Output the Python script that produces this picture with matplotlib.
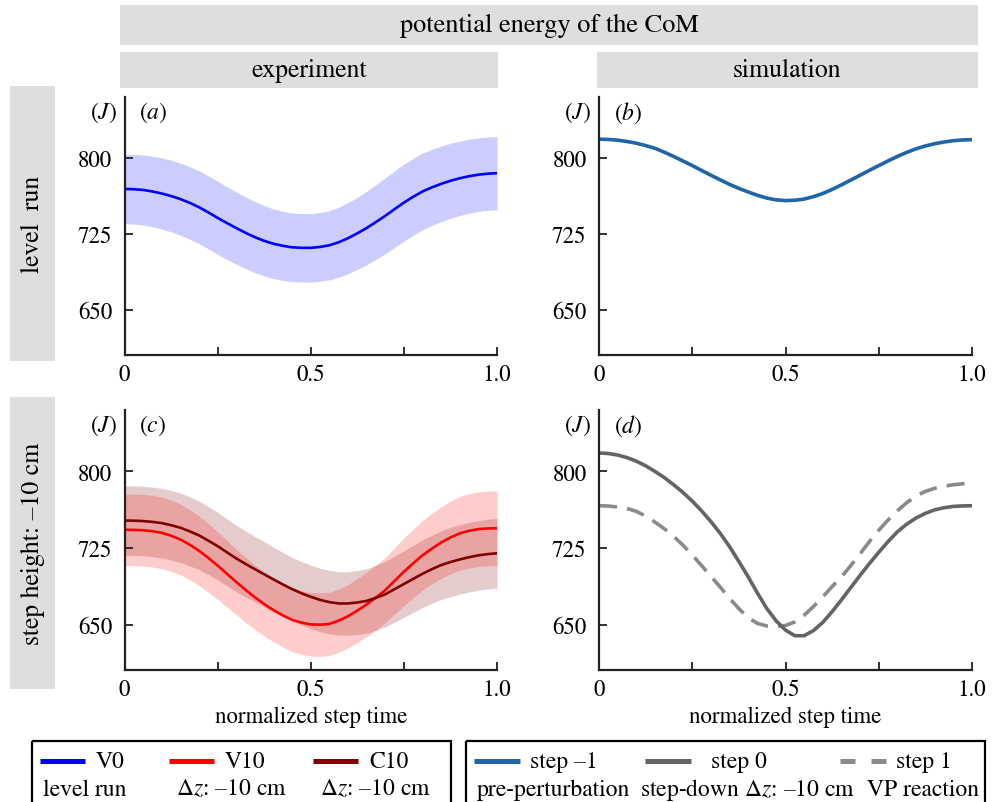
import numpy as np
import matplotlib.pyplot as plt
from matplotlib.patches import Rectangle

plt.rcParams['font.family'] = ['STIXGeneral', 'DejaVu Serif']
plt.rcParams['mathtext.fontset'] = 'stix'

# normalized step time, 0 .. 1 in steps of 0.025
t = np.linspace(0, 1, 41)

# (a) experiment, level run (V0): mean and sd, J
v0_mean = [769.5, 769.2, 768.5, 767, 765, 762.5, 759.5, 755.8, 751.5, 746.4, 741,
           735.9, 731, 726.3, 722, 718.4, 715.5, 713.5, 712, 711.5, 711.5,
           712.4, 714, 717, 721, 725.8, 731, 736.9, 743, 749.6, 756,
           761.8, 767, 771, 774.5, 777.5, 780, 782, 783.5, 784.5, 785]
v0_sd = [34.2, 34.3, 34.5, 34.7, 35, 35.3, 35.5, 35.7, 35.8, 35.9, 36,
         35.8, 35.6, 35.3, 35, 34.6, 34.3, 34, 33.8, 33.7, 33.7,
         33.8, 34, 34.5, 35, 35.6, 36.2, 36.8, 37.3, 37.7, 38,
         37.9, 37.8, 37.5, 37.2, 36.9, 36.6, 36.4, 36.2, 36.1, 36]

# (b) simulation, level run (step -1)
step_m1 = [818.5, 818.2, 817.5, 816.2, 814.5, 812.2, 809.5, 805.7, 801.5, 797, 792.5,
           787.7, 783, 778.4, 774, 770, 766.5, 763.2, 760.5, 758.7, 758,
           758.4, 759.5, 761.9, 765, 769, 773.5, 778.2, 783, 787.8, 792.5,
           797.1, 801.5, 805.5, 809, 811.8, 814, 815.7, 817, 817.7, 818]

# (c) experiment, step down (V10, C10)
v10_mean = [743, 742.9, 742.5, 741.6, 740, 737.2, 733.5, 728.5, 722.5, 715.5, 708,
            700, 692, 684.3, 677, 670.4, 664.5, 659.4, 655, 652.3, 650.5,
            650.3, 651, 654.2, 658.5, 664, 670, 676.8, 684, 693, 702,
            710.2, 718, 724.5, 730.5, 735.5, 739.5, 742, 743.6, 744.3, 744.5]
v10_sd = [35, 35, 35, 35, 35, 34.8, 34.5, 34.3, 34, 33.5, 33,
          32.5, 32, 31.8, 31.5, 31.2, 31, 31, 31, 31, 31,
          31, 31, 31, 31, 31.2, 31.5, 31.8, 32, 32.5, 33,
          33.5, 34, 34.5, 35, 35.5, 36, 36.3, 36.5, 36.5, 36.5]
c10_mean = [752, 751.9, 751.5, 750.7, 749.5, 747.5, 745, 741.5, 737.5, 732.4, 727,
            721, 715, 709.6, 704.5, 699.5, 694.5, 689.6, 685, 681, 677.5,
            674.5, 672.3, 671, 671, 671.9, 673.5, 676.5, 680, 685, 690,
            695, 700, 704.5, 708.5, 711.5, 714, 716.2, 718, 719.2, 720]
c10_sd = [34, 34, 34, 34, 34, 34, 34, 33.8, 33.5, 33.3, 33,
          32.8, 32.5, 32.3, 32, 31.8, 31.5, 31.3, 31, 31, 31,
          31, 31, 31, 31, 31.3, 31.5, 31.8, 32, 32.3, 32.5,
          32.8, 33, 33.3, 33.5, 33.8, 34, 34, 34, 34, 34]

# (d) simulation, step down (step 0, step 1)
step0 = [818, 817.5, 816, 813.5, 810, 805.5, 800, 794, 787, 779.5, 771,
         761.5, 751, 739.5, 726.5, 712, 697, 681, 666, 654, 645,
         639.5, 639.5, 644.5, 652.5, 663, 674.5, 686.5, 698.5, 710, 721,
         731.5, 741, 748.5, 754.5, 759, 762.5, 764.5, 765.8, 766.3, 766.5]
step1 = [766.5, 766.2, 765.2, 763.8, 761, 756.5, 750.5, 744, 736.5, 728, 718.5,
         708, 697.5, 687, 676, 666, 657, 651.5, 649, 648.4, 649.5,
         653, 659.5, 668, 677.5, 687.5, 697, 708, 719.5, 731.5, 742.5,
         752.5, 761.5, 769.5, 776, 780.5, 783.5, 785.5, 787, 788, 788.5]

c_v0, c_v10, c_c10 = '#0000ff', '#ff0000', '#800000'
c_sm1, c_s0, c_s1 = '#2064aa', '#646464', '#8a8a8a'
strip_col = '#dedede'
fs = 16.5

W, H = 993, 803
fig = plt.figure(figsize=(W / 100, H / 100), dpi=100)
bg = fig.add_axes([0, 0, 1, 1])
bg.set_xlim(0, W)
bg.set_ylim(H, 0)
bg.axis('off')


def px_axes(l, t_, r, b):
    return fig.add_axes([l / W, 1 - b / H, (r - l) / W, (b - t_) / H])


def strip(x0, y0, x1, y1, text, rot=0, size=18.5):
    bg.add_patch(Rectangle((x0, y0), x1 - x0, y1 - y0, color=strip_col, lw=0))
    bg.text((x0 + x1) / 2, (y0 + y1) / 2, text, ha='center', va='center',
            rotation=rot, fontsize=size)


strip(120, 6, 978, 46, 'potential energy of the CoM', size=19)
strip(120, 53, 498, 89, 'experiment')
strip(597, 53, 978, 89, 'simulation')
strip(10, 87, 55, 362, 'level  run', rot=90)
strip(10, 398, 55, 690, 'step height: –10 cm', rot=90)


def style(ax, letter, xlabel=False):
    ax.set_xlim(0, 1)
    ax.set_ylim(606, 860)
    ax.set_yticks([650, 725, 800])
    ax.set_xticks([0, 0.5, 1.0])
    ax.set_xticklabels(['0', '0.5', '1.0'])
    ax.set_xticks([0.25, 0.75], minor=True)
    for s in ['top', 'right']:
        ax.spines[s].set_visible(False)
    for s in ['left', 'bottom']:
        ax.spines[s].set_linewidth(1.6)
        ax.spines[s].set_color('#222222')
    ax.tick_params(which='both', direction='in', length=6, width=1.3,
                   color='#222222', labelsize=fs)
    ax.tick_params(axis='x', pad=6)
    ax.tick_params(axis='y', pad=9)
    ax.text(-0.02, 0.942, '($J$)', transform=ax.transAxes, ha='right',
            va='center', fontsize=17)
    ax.text(0.039, 0.942, '($%s$)' % letter, transform=ax.transAxes, ha='left',
            va='center', fontsize=17)
    if xlabel:
        ax.set_xlabel('normalized step time', fontsize=16.5, labelpad=4)


ax_a = px_axes(124.5, 98, 497, 356)
ax_b = px_axes(599, 98, 972, 356)
ax_c = px_axes(124.5, 411, 497, 671)
ax_d = px_axes(599, 411, 972, 671)

m, s = np.array(v0_mean), np.array(v0_sd)
ax_a.fill_between(t, m - s, m + s, color=c_v0, alpha=0.2, lw=0)
ax_a.plot(t, m, color=c_v0, lw=1.9)
style(ax_a, 'a')

ax_b.plot(t, step_m1, color=c_sm1, lw=2.6)
style(ax_b, 'b')

m1, s1 = np.array(c10_mean), np.array(c10_sd)
m2, s2 = np.array(v10_mean), np.array(v10_sd)
ax_c.fill_between(t, m1 - s1, m1 + s1, color=c_c10, alpha=0.2, lw=0)
ax_c.fill_between(t, m2 - s2, m2 + s2, color=c_v10, alpha=0.2, lw=0)
ax_c.plot(t, m2, color=c_v10, lw=1.9)
ax_c.plot(t, m1, color=c_c10, lw=1.9)
style(ax_c, 'c', xlabel=True)

ax_d.plot(t, step1, color=c_s1, lw=2.6, ls=(0, (5, 2.8)))
ax_d.plot(t, step0, color=c_s0, lw=2.6)
style(ax_d, 'd', xlabel=True)

# legend boxes
exp_names = ['V0', 'V10', 'C10']
exp_notes = ['level run', r'$\Delta z$: –10 cm', r'$\Delta z$: –10 cm']
exp_cols = [c_v0, c_v10, c_c10]
sim_names = ['step –1', 'step 0', 'step 1']
sim_notes = ['pre-perturbation', r'step-down $\Delta z$: –10 cm', 'VP reaction']
sim_cols = [c_sm1, c_s0, c_s1]
sim_styles = ['-', '-', (0, (3, 3.2))]

bg.add_patch(Rectangle((32, 742), 419, 66, fill=False, ec='black', lw=1.6))
bg.add_patch(Rectangle((466, 742), 519, 66, fill=False, ec='black', lw=1.6))

exp_handle_x = [40, 169, 313]
exp_note_x = [85, 231, 375]
for hx, nx, name, note, col in zip(exp_handle_x, exp_note_x, exp_names,
                                   exp_notes, exp_cols):
    bg.plot([hx, hx + 45], [762, 762], color=col, lw=3.6, solid_capstyle='butt')
    bg.text(hx + 56, 762, name, ha='left', va='center', fontsize=17)
    bg.text(nx, 790, note, ha='center', va='center', fontsize=17)

sim_handle_x = [474, 645, 840]
sim_note_x = [554, 748, 923]
for hx, nx, name, note, col, ls in zip(sim_handle_x, sim_note_x, sim_names,
                                       sim_notes, sim_cols, sim_styles):
    bg.plot([hx, hx + 46], [762, 762], color=col, lw=3.6, ls=ls,
            solid_capstyle='butt', dash_capstyle='butt')
    gap = 20 if name == 'step 0' else 10
    bg.text(hx + 46 + gap, 762, name, ha='left', va='center', fontsize=17)
    bg.text(nx, 790, note, ha='center', va='center', fontsize=17)

fig.savefig('out.png', dpi=100)
